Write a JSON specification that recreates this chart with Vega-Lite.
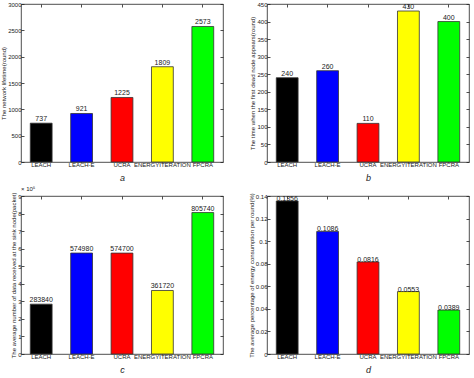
{
  "$schema": "https://vega.github.io/schema/vega-lite/v6.json",
  "padding": {"left": 0, "top": 0, "right": 0, "bottom": 0},
  "background": "white",
  "bounds": "flush",
  "columns": 2,
  "spacing": {"row": 34, "column": 44},
  "data": {"values": [
    {"panel": "a", "method": "LEACH", "value": 737},
    {"panel": "a", "method": "LEACH-E", "value": 921},
    {"panel": "a", "method": "UCRA", "value": 1225},
    {"panel": "a", "method": "ENERGYITERATION", "value": 1809},
    {"panel": "a", "method": "FPCRA", "value": 2573},
    {"panel": "b", "method": "LEACH", "value": 240},
    {"panel": "b", "method": "LEACH-E", "value": 260},
    {"panel": "b", "method": "UCRA", "value": 110},
    {"panel": "b", "method": "ENERGYITERATION", "value": 430},
    {"panel": "b", "method": "FPCRA", "value": 400},
    {"panel": "c", "method": "LEACH", "value": 283840},
    {"panel": "c", "method": "LEACH-E", "value": 574980},
    {"panel": "c", "method": "UCRA", "value": 574700},
    {"panel": "c", "method": "ENERGYITERATION", "value": 361720},
    {"panel": "c", "method": "FPCRA", "value": 805740},
    {"panel": "d", "method": "LEACH", "value": 0.1356},
    {"panel": "d", "method": "LEACH-E", "value": 0.1086},
    {"panel": "d", "method": "UCRA", "value": 0.0816},
    {"panel": "d", "method": "ENERGYITERATION", "value": 0.0553},
    {"panel": "d", "method": "FPCRA", "value": 0.0389}
  ]},
  "concat": [
    {
      "width": 202, "height": 158,
      "transform": [{"filter": "datum.panel == 'a'"}],
      "layer": [
        {
          "mark": {"type": "bar", "stroke": "#333", "strokeWidth": 0.8},
          "encoding": {
            "x": {"field": "method", "type": "nominal", "sort": null, "scale": {"paddingInner": 0.46, "paddingOuter": 0.23},
                  "axis": {"orient": "bottom", "title": "a"}},
            "y": {"field": "value", "type": "quantitative", "scale": {"domain": [0, 3000], "nice": false},
                  "axis": {"orient": "left", "values": [0, 500, 1000, 1500, 2000, 2500, 3000], "format": "d", "title": "The network lifetime(round)"}},
            "color": {"field": "method", "type": "nominal", "sort": null, "legend": null,
                      "scale": {"domain": ["LEACH", "LEACH-E", "UCRA", "ENERGYITERATION", "FPCRA"], "range": ["#000000", "#0000ff", "#ff0000", "#ffff00", "#00ff00"]}}
          }
        },
        {
          "mark": {"type": "text", "baseline": "bottom", "dy": -1, "fontSize": 7, "font": "Liberation Sans", "color": "#222"},
          "encoding": {
            "x": {"field": "method", "type": "nominal", "sort": null, "axis": {"orient": "top", "labels": false, "title": null}},
            "y": {"field": "value", "type": "quantitative", "axis": {"orient": "right", "labels": false, "title": null, "values": [0, 500, 1000, 1500, 2000, 2500, 3000]}},
            "text": {"field": "value", "type": "quantitative", "format": "d"}
          }
        }
      ],
      "resolve": {"axis": {"x": "independent", "y": "independent"}}
    },
    {
      "width": 202, "height": 158,
      "transform": [{"filter": "datum.panel == 'b'"}],
      "layer": [
        {
          "mark": {"type": "bar", "stroke": "#333", "strokeWidth": 0.8},
          "encoding": {
            "x": {"field": "method", "type": "nominal", "sort": null, "scale": {"paddingInner": 0.46, "paddingOuter": 0.23},
                  "axis": {"orient": "bottom", "title": "b"}},
            "y": {"field": "value", "type": "quantitative", "scale": {"domain": [0, 450], "nice": false},
                  "axis": {"orient": "left", "values": [0, 50, 100, 150, 200, 250, 300, 350, 400, 450], "title": "The time when the first dead node appears(round)"}},
            "color": {"field": "method", "type": "nominal", "sort": null, "legend": null,
                      "scale": {"domain": ["LEACH", "LEACH-E", "UCRA", "ENERGYITERATION", "FPCRA"], "range": ["#000000", "#0000ff", "#ff0000", "#ffff00", "#00ff00"]}}
          }
        },
        {
          "mark": {"type": "text", "baseline": "bottom", "dy": -1, "fontSize": 7, "font": "Liberation Sans", "color": "#222"},
          "encoding": {
            "x": {"field": "method", "type": "nominal", "sort": null, "axis": {"orient": "top", "labels": false, "title": null}},
            "y": {"field": "value", "type": "quantitative", "axis": {"orient": "right", "labels": false, "title": null, "values": [0, 50, 100, 150, 200, 250, 300, 350, 400, 450]}},
            "text": {"field": "value", "type": "quantitative", "format": "d"}
          }
        }
      ],
      "resolve": {"axis": {"x": "independent", "y": "independent"}}
    },
    {
      "width": 202, "height": 158,
      "title": {"text": "× 10⁵", "anchor": "start", "frame": "group", "fontSize": 6, "fontWeight": "normal", "offset": 0, "font": "Liberation Sans", "color": "#222"},
      "transform": [{"filter": "datum.panel == 'c'"}],
      "layer": [
        {
          "mark": {"type": "bar", "stroke": "#333", "strokeWidth": 0.8},
          "encoding": {
            "x": {"field": "method", "type": "nominal", "sort": null, "scale": {"paddingInner": 0.46, "paddingOuter": 0.23},
                  "axis": {"orient": "bottom", "title": "c"}},
            "y": {"field": "value", "type": "quantitative", "scale": {"domain": [0, 900000], "nice": false},
                  "axis": {"orient": "left", "values": [0, 100000, 200000, 300000, 400000, 500000, 600000, 700000, 800000, 900000], "labelExpr": "format(datum.value / 100000, 'd')", "title": "The average number of data received at the sink node(packet)"}},
            "color": {"field": "method", "type": "nominal", "sort": null, "legend": null,
                      "scale": {"domain": ["LEACH", "LEACH-E", "UCRA", "ENERGYITERATION", "FPCRA"], "range": ["#000000", "#0000ff", "#ff0000", "#ffff00", "#00ff00"]}}
          }
        },
        {
          "mark": {"type": "text", "baseline": "bottom", "dy": -1, "fontSize": 7, "font": "Liberation Sans", "color": "#222"},
          "encoding": {
            "x": {"field": "method", "type": "nominal", "sort": null, "axis": {"orient": "top", "labels": false, "title": null}},
            "y": {"field": "value", "type": "quantitative", "axis": {"orient": "right", "labels": false, "title": null, "values": [0, 100000, 200000, 300000, 400000, 500000, 600000, 700000, 800000, 900000]}},
            "text": {"field": "value", "type": "quantitative", "format": "d"}
          }
        }
      ],
      "resolve": {"axis": {"x": "independent", "y": "independent"}}
    },
    {
      "width": 202, "height": 158,
      "transform": [{"filter": "datum.panel == 'd'"}],
      "layer": [
        {
          "mark": {"type": "bar", "stroke": "#333", "strokeWidth": 0.8},
          "encoding": {
            "x": {"field": "method", "type": "nominal", "sort": null, "scale": {"paddingInner": 0.46, "paddingOuter": 0.23},
                  "axis": {"orient": "bottom", "title": "d"}},
            "y": {"field": "value", "type": "quantitative", "scale": {"domain": [0, 0.14], "nice": false},
                  "axis": {"orient": "left", "values": [0, 0.02, 0.04, 0.06, 0.08, 0.1, 0.12, 0.14], "format": "~g", "title": "The average percentage of energy consumption per round(%)"}},
            "color": {"field": "method", "type": "nominal", "sort": null, "legend": null,
                      "scale": {"domain": ["LEACH", "LEACH-E", "UCRA", "ENERGYITERATION", "FPCRA"], "range": ["#000000", "#0000ff", "#ff0000", "#ffff00", "#00ff00"]}}
          }
        },
        {
          "mark": {"type": "text", "baseline": "bottom", "dy": 1, "fontSize": 7, "font": "Liberation Sans", "color": "#222"},
          "encoding": {
            "x": {"field": "method", "type": "nominal", "sort": null, "axis": {"orient": "top", "labels": false, "title": null}},
            "y": {"field": "value", "type": "quantitative", "axis": {"orient": "right", "labels": false, "title": null, "values": [0, 0.02, 0.04, 0.06, 0.08, 0.1, 0.12, 0.14]}},
            "text": {"field": "value", "type": "quantitative", "format": ".4f"}
          }
        }
      ],
      "resolve": {"axis": {"x": "independent", "y": "independent"}}
    }
  ],
  "config": {
    "view": {"stroke": "#222", "strokeWidth": 0.8},
    "axis": {
      "domain": false,
      "grid": false,
      "ticks": true,
      "tickSize": -3,
      "tickColor": "#222",
      "tickWidth": 0.8,
      "labelFont": "Liberation Sans",
      "labelFontSize": 6,
      "labelColor": "#222",
      "labelPadding": 3,
      "labelOverlap": false,
      "labelFlush": false,
      "titleFont": "Liberation Sans",
      "titleFontSize": 6,
      "titleFontWeight": "normal",
      "titleColor": "#222",
      "titlePadding": 1
    },
    "axisX": {"labelAngle": 0, "labelPadding": 2, "titleFontStyle": "italic", "titleFontSize": 9, "titlePadding": 6}
  }
}
